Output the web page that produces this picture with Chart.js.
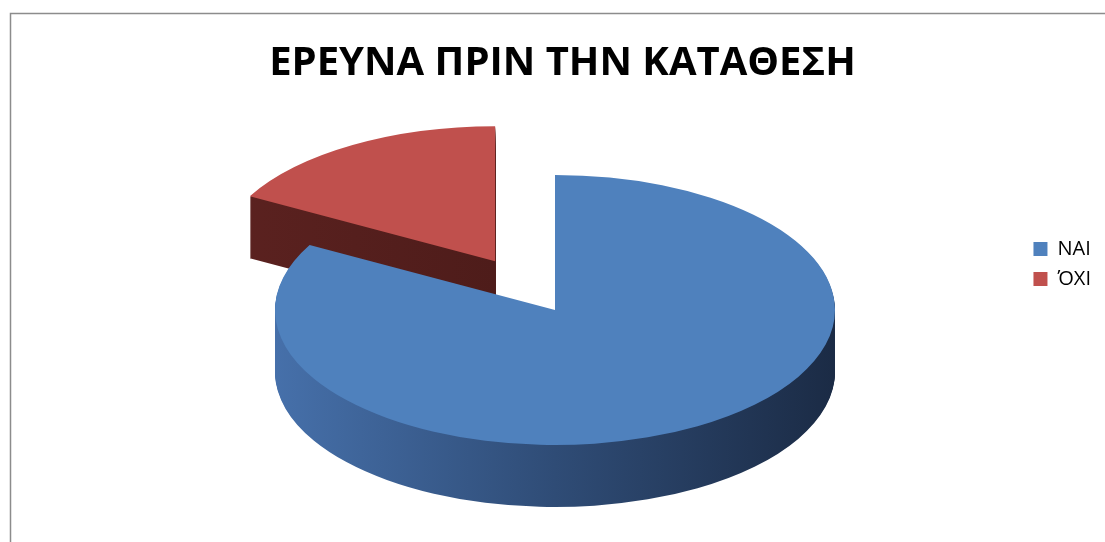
<!DOCTYPE html>
<html>
<head>
<meta charset="utf-8">
<script src="https://cdn.jsdelivr.net/npm/chart.js@4.4.1/dist/chart.umd.min.js"></script>
<style>
  html, body { margin: 0; padding: 0; background: #fff; }
  canvas { display: block; }
</style>
</head>
<body>
<canvas id="pieChart" width="1105" height="542"></canvas>
<script>
var labels = ['ΝΑΙ', 'ΌΧΙ'];
var answers = [83, 17];
var topColors = ['#4f81bd', '#c0504d'];
// side wall shading, left -> middle -> right
var sideColors = [
  ['#4670aa', '#2f4c76', '#1b2b45'],
  ['#5c2220', '#4e1c1a', '#3c1412']
];
// pull-out of each slice, as a share of the radius
var explode = [0, 0.42];

// flattened 3d look: ellipse centre, radii and wall depth in pixels
var PIE = { cx: 555, cy: 310, rx: 280, ry: 135, depth: 62 };

function drawArcAt(ctx, arc, sx, sy, dy, pull) {
  var mid = (arc.startAngle + arc.endAngle) / 2;
  ctx.save();
  ctx.translate(PIE.cx, PIE.cy + dy);
  ctx.scale(sx, sy);
  ctx.translate(-arc.x + Math.cos(mid) * pull, -arc.y + Math.sin(mid) * pull);
  arc.draw(ctx);
  ctx.restore();
}

var pie3d = {
  id: 'pie3d',
  beforeDraw: function(chart) {
    var ctx = chart.ctx;
    ctx.save();
    ctx.strokeStyle = '#8c8c8c';
    ctx.lineWidth = 1.5;
    ctx.beginPath();
    ctx.moveTo(10.5, chart.height);
    ctx.lineTo(10.5, 13.5);
    ctx.lineTo(chart.width, 13.5);
    ctx.stroke();
    ctx.restore();
  },
  beforeDatasetsDraw: function(chart) {
    var ctx = chart.ctx;
    var arcs = chart.getDatasetMeta(0).data;
    var order = arcs.map(function(a, i) { return i; });
    // back slices first
    order.sort(function(i, j) {
      var a = arcs[i], b = arcs[j];
      return Math.sin((a.startAngle + a.endAngle) / 2) - Math.sin((b.startAngle + b.endAngle) / 2);
    });
    order.forEach(function(i) {
      var arc = arcs[i];
      var r = arc.outerRadius;
      var sx = PIE.rx / r, sy = PIE.ry / r;
      var pull = explode[i] * r;
      var opts = arc.options;
      var g = ctx.createLinearGradient(arc.x - r, 0, arc.x + r, 0);
      g.addColorStop(0, sideColors[i][0]);
      g.addColorStop(0.5, sideColors[i][1]);
      g.addColorStop(1, sideColors[i][2]);
      arc.options = Object.assign({}, opts, { backgroundColor: g, borderWidth: 0 });
      for (var d = PIE.depth; d > 0; d--) {
        drawArcAt(ctx, arc, sx, sy, d, pull);
      }
      arc.options = opts;
      drawArcAt(ctx, arc, sx, sy, 0, pull);
    });
    return false;
  }
};

new Chart(document.getElementById('pieChart').getContext('2d'), {
  type: 'pie',
  data: {
    labels: labels,
    datasets: [{
      data: answers,
      backgroundColor: topColors,
      borderWidth: 0
    }]
  },
  options: {
    responsive: false,
    animation: false,
    events: [],
    layout: { padding: { left: 24, right: 4, top: 0, bottom: 14 } },
    plugins: {
      title: {
        display: true,
        text: 'ΕΡΕΥΝΑ ΠΡΙΝ ΤΗΝ ΚΑΤΑΘΕΣΗ',
        color: '#000',
        font: { family: 'Open Sans', size: 40, weight: 'bold' },
        padding: { top: 40, bottom: 20 }
      },
      legend: {
        position: 'right',
        labels: {
          color: '#000',
          boxWidth: 14,
          boxHeight: 14,
          padding: 10,
          font: { family: 'Open Sans', size: 20 }
        }
      },
      tooltip: { enabled: false }
    }
  },
  plugins: [pie3d]
});
</script>
</body>
</html>
